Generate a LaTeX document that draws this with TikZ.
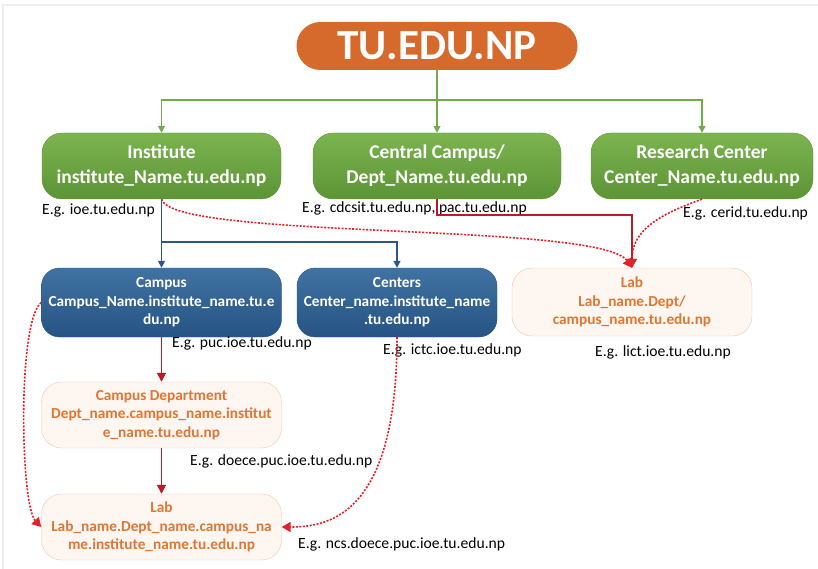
\documentclass[tikz,border=0pt]{standalone}
\usepackage{fontspec}
\setmainfont{Carlito}
\usepackage{tikz}
\usetikzlibrary{arrows.meta}

\definecolor{tuorange}{RGB}{214,106,44}
\definecolor{greenhi}{RGB}{124,180,80}
\definecolor{greenlo}{RGB}{92,148,54}
\definecolor{greenline}{RGB}{112,173,71}
\definecolor{bluehi}{RGB}{64,114,162}
\definecolor{bluelo}{RGB}{38,84,132}
\definecolor{blueline}{RGB}{47,85,140}
\definecolor{labtext}{RGB}{224,118,50}
\definecolor{labfill}{RGB}{254,246,241}
\definecolor{labborder}{RGB}{244,196,170}
\definecolor{darkred}{RGB}{184,28,36}
\definecolor{dotred}{RGB}{232,30,40}
\definecolor{framegray}{RGB}{238,238,238}

\begin{document}
\begin{tikzpicture}[x=1pt,y=-1pt,
    root/.style={fill=tuorange, text=white, rounded corners=24pt, minimum width=281pt, minimum height=48pt, inner sep=0pt, font=\fontsize{43}{45}\selectfont\bfseries},
    unit/.style={top color=greenhi, bottom color=greenlo, draw=greenlo, text=white, rounded corners=20pt, minimum height=66pt, align=center, font=\fontsize{19.5}{25}\selectfont\bfseries},
    sub/.style={top color=bluehi, bottom color=bluelo, draw=bluelo, text=white, rounded corners=18pt, minimum height=69pt, align=center, font=\fontsize{15.3}{18.5}\selectfont\bfseries},
    leaf/.style={fill=labfill, draw=labborder, text=labtext, rounded corners=20pt, minimum height=66pt, align=center, font=\fontsize{15.3}{18.5}\selectfont\bfseries},
    eg/.style={anchor=west, inner sep=0pt, font=\fontsize{15.6}{18}\selectfont},
    gline/.style={draw=greenline, line width=1.5pt},
    garrow/.style={gline, -{Triangle[length=7pt,width=7pt]}},
    barrow/.style={draw=blueline, line width=1.5pt, -{Triangle[length=7pt,width=7pt]}},
    rarrow/.style={draw=darkred, line width=1.8pt, -{Triangle[length=9pt,width=9pt]}},
    darrow/.style={draw=dotred, line width=1.6pt, dash pattern=on 2pt off 1.5pt, -{Triangle[length=9pt,width=10pt,fill=dotred]}}
  ]
\useasboundingbox (0,0) rectangle (818,569);
\draw[framegray, line width=2pt] (3,569) -- (3,5) -- (818,5);

\node[root] (tu) at (437,46) {TU.EDU.NP};

\node[unit, minimum width=239pt] (inst) at (161.5,166) {Institute\\institute\_Name.tu.edu.np};
\node[unit, minimum width=248pt] (central) at (437,166) {Central Campus/\\Dept\_Name.tu.edu.np};
\node[unit, minimum width=222pt] (research) at (702,166) {Research Center\\Center\_Name.tu.edu.np};

\node[sub, minimum width=240pt] (campus) at (161.5,302.5) {Campus\\Campus\_Name.institute\_name.tu.e\\du.np};
\node[sub, minimum width=200pt] (centers) at (397,302.5) {Centers\\Center\_name.institute\_name\\.tu.edu.np};
\node[leaf, minimum width=240pt, minimum height=68pt] (labr) at (632,302) {Lab\\Lab\_name.Dept/\\campus\_name.tu.edu.np};
\node[leaf, minimum width=240pt] (dept) at (161.5,415) {Campus Department\\Dept\_name.campus\_name.institut\\e\_name.tu.edu.np};
\node[leaf, minimum width=240pt] (labb) at (161.5,527) {Lab\\Lab\_name.Dept\_name.campus\_na\\me.institute\_name.tu.edu.np};

\node[eg] (egioe) at (42,210) {E.g. ioe.tu.edu.np};
\node[eg] (egcdcsit) at (302,208) {E.g. cdcsit.tu.edu.np, pac.tu.edu.np};
\node[eg] (egcerid) at (683,213) {E.g. cerid.tu.edu.np};
\node[eg] (egpuc) at (172,343) {E.g. puc.ioe.tu.edu.np};
\node[eg] (egictc) at (383,350) {E.g. ictc.ioe.tu.edu.np};
\node[eg] (eglict) at (595,352) {E.g. lict.ioe.tu.edu.np};
\node[eg] (egdoece) at (190,461) {E.g. doece.puc.ioe.tu.edu.np};
\node[eg] (egncs) at (298,544) {E.g. ncs.doece.puc.ioe.tu.edu.np};

\coordinate (gbus) at (437,100);
\draw[gline] (tu.south) -- (gbus);
\draw[garrow] (gbus) -| (inst.north);
\draw[garrow] (gbus) -- (central.north);
\draw[garrow] (gbus) -| (research.north);

\coordinate (bbus) at (161.5,242);
\draw[barrow] (inst.south) -- (campus.north);
\draw[barrow] (bbus) -| (centers.north);

\draw[rarrow] (central.south) -- ++(0,16) -| (labr.north);
\draw[rarrow] (campus.south) -- (dept.north);
\draw[rarrow] (dept.south) -- (labb.north);

\draw[darrow] (inst.south) .. controls +(11,41) and +(-32,-46) .. (labr.north);
\draw[darrow] (research.south) .. controls +(-42,15) and +(0,-38) .. (labr.north);
\draw[darrow] (campus.west) .. controls +(-24,18) and +(-21,-22) .. (labb.west);
\draw[darrow] (centers.south) .. controls +(0,175) and +(50,0) .. (labb.east);
\end{tikzpicture}
\end{document}
